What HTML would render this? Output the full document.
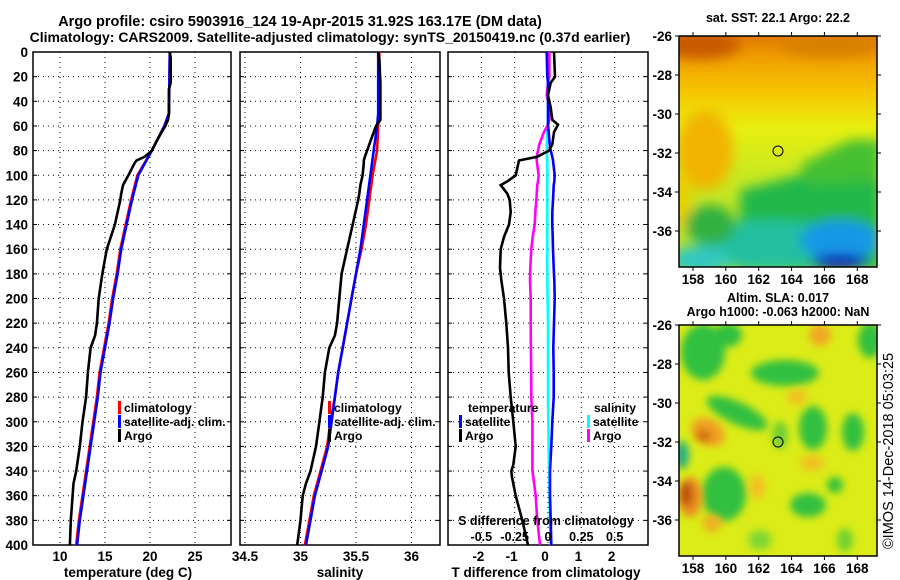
<!DOCTYPE html>
<html><head><meta charset="utf-8"><style>
html,body{margin:0;padding:0;background:#fff;}
svg{display:block;font-family:"Liberation Sans",sans-serif;font-weight:bold;}
</style></head><body>
<svg id="fig" width="900" height="580" viewBox="0 0 900 580">
<defs>
<filter id="blur6" x="-20%" y="-20%" width="140%" height="140%"><feGaussianBlur stdDeviation="6"/></filter>
<filter id="blur4" x="-20%" y="-20%" width="140%" height="140%"><feGaussianBlur stdDeviation="4"/></filter>
<clipPath id="clipTop"><rect x="679" y="36" width="198" height="231"/></clipPath>
<clipPath id="clipBot"><rect x="679" y="325" width="198" height="231"/></clipPath>
<linearGradient id="sstGrad" x1="0" y1="0" x2="0" y2="1">
<stop offset="0" stop-color="#e07a00"/><stop offset="0.1" stop-color="#f0a000"/>
<stop offset="0.25" stop-color="#f6c800"/><stop offset="0.4" stop-color="#e8ef10"/>
<stop offset="0.6" stop-color="#c8e820"/><stop offset="1" stop-color="#b0e030"/>
</linearGradient>
</defs>
<text x="300" y="26" font-size="14.5" text-anchor="middle">Argo profile: csiro 5903916_124 19-Apr-2015 31.92S 163.17E (DM data)</text>
<text x="330" y="42" font-size="14" text-anchor="middle">Climatology: CARS2009. Satellite-adjusted climatology: synTS_20150419.nc (0.37d earlier)</text>

<g id="p1"></g>
<g id="p2"></g>
<g id="p3"></g>

<!-- top map -->
<text x="778" y="22" font-size="12.5" text-anchor="middle">sat. SST: 22.1 Argo: 22.2</text>
<g clip-path="url(#clipTop)">
<rect x="679" y="36" width="198" height="231" fill="url(#sstGrad)"/>
<g filter="url(#blur6)">
<ellipse cx="700" cy="45" rx="40" ry="14" fill="#c85a00"/>
<ellipse cx="830" cy="45" rx="50" ry="12" fill="#d88000"/>
<ellipse cx="705" cy="150" rx="28" ry="40" fill="#f2b400"/>
<ellipse cx="680" cy="200" rx="12" ry="30" fill="#e8d000"/>
<path d="M740 190 L800 175 L830 150 L880 145 L880 270 L740 270 Z" fill="#22b84a"/>
<path d="M800 165 L850 140 L880 140 L880 180 L810 185 Z" fill="#44c030"/>
<ellipse cx="770" cy="245" rx="70" ry="25" fill="#20c0a0"/>
<ellipse cx="700" cy="260" rx="30" ry="14" fill="#30c8c0"/>
<ellipse cx="840" cy="240" rx="40" ry="20" fill="#1898e8"/>
<ellipse cx="840" cy="262" rx="28" ry="8" fill="#0820b0"/>
<ellipse cx="710" cy="225" rx="25" ry="20" fill="#30b040"/>
</g>
<circle cx="778" cy="151" r="5" fill="none" stroke="#000" stroke-width="1"/>
</g>
<rect x="679" y="36" width="198" height="231" fill="none" stroke="#000" stroke-width="1.5"/>
<g id="mapTopAxes"></g>

<!-- bottom map -->
<text x="778" y="302" font-size="12.5" text-anchor="middle">Altim. SLA: 0.017</text>
<text x="778" y="316" font-size="12.5" text-anchor="middle">Argo h1000: -0.063 h2000: NaN</text>
<g clip-path="url(#clipBot)">
<rect x="679" y="325" width="198" height="231" fill="#dcec18"/>
<g filter="url(#blur4)" fill="#30c040">
<ellipse cx="703" cy="352" rx="22" ry="28"/>
<ellipse cx="728" cy="335" rx="14" ry="12"/>
<ellipse cx="785" cy="373" rx="34" ry="13"/>
<ellipse cx="737" cy="413" rx="33" ry="11" transform="rotate(25 737 413)"/>
<ellipse cx="813" cy="428" rx="14" ry="22"/>
<ellipse cx="853" cy="432" rx="11" ry="19"/>
<ellipse cx="870" cy="340" rx="12" ry="18"/>
<ellipse cx="724" cy="494" rx="22" ry="27"/>
<ellipse cx="808" cy="505" rx="18" ry="12"/>
<ellipse cx="682" cy="455" rx="7" ry="14" fill="#20b080"/>
<ellipse cx="835" cy="485" rx="8" ry="8"/>
<ellipse cx="780" cy="435" rx="8" ry="14" fill="#70d030"/>
<ellipse cx="845" cy="540" rx="8" ry="12" fill="#70d030"/>
<ellipse cx="760" cy="540" rx="12" ry="10" fill="#80d830"/>
</g>
<g filter="url(#blur4)">
<ellipse cx="708" cy="432" rx="18" ry="13" fill="#f0a020" transform="rotate(30 708 432)"/>
<ellipse cx="703" cy="436" rx="8" ry="6" fill="#d06a10"/>
<ellipse cx="690" cy="497" rx="12" ry="20" fill="#e88a20"/>
<ellipse cx="686" cy="494" rx="6" ry="12" fill="#b84a08"/>
<ellipse cx="820" cy="335" rx="11" ry="11" fill="#f0a820"/>
<ellipse cx="797" cy="397" rx="10" ry="8" fill="#f2c020"/>
<ellipse cx="812" cy="463" rx="12" ry="8" fill="#f2c020"/>
<ellipse cx="757" cy="487" rx="8" ry="12" fill="#f2c020"/>
<ellipse cx="712" cy="523" rx="10" ry="9" fill="#f0b020"/>
</g>
<circle cx="778" cy="442" r="5" fill="none" stroke="#000" stroke-width="1"/>
</g>
<rect x="679" y="325" width="198" height="231" fill="none" stroke="#000" stroke-width="1.5"/>
<g id="mapBotAxes"></g>
<text transform="translate(893,549) rotate(-90)" font-size="14.5" font-weight="normal">©IMOS 14-Dec-2018 05:03:25</text>
</svg>
<script>
// ---------- data ----------
const depthTicks = [0,20,40,60,80,100,120,140,160,180,200,220,240,260,280,300,320,340,360,380,400];
const tempTicks = [10,15,20,25];
const salTicks = [34.5,35,35.5,36];
const salTickLabels = ["34.5","35","35.5","36"];
const tdiffTicks = [-2,-1,0,1,2];
const sdiffTicks = [-0.5,-0.25,0,0.25,0.5];
const sdiffTickLabels = ["-0.5","-0.25","0","0.25","0.5"];

const argoDepth = [0,5,25,30,50,55,60,70,80,85,88,90,100,108,115,120,140,160,180,200,220,230,240,260,280,300,320,340,350,360,380,400];
const argoTemp  = [22.2,22.3,22.3,22.1,22.1,22.0,21.7,20.9,20.2,19.4,18.5,18.3,17.6,17.0,16.8,16.7,16.1,15.2,14.7,14.3,14.1,13.9,13.4,13.1,12.9,12.5,12.2,11.8,11.5,11.4,11.2,11.1];
const argoSal   = [35.70,35.71,35.72,35.72,35.72,35.72,35.68,35.64,35.60,35.58,35.57,35.57,35.56,35.54,35.53,35.52,35.47,35.42,35.37,35.35,35.33,35.31,35.26,35.22,35.20,35.17,35.14,35.09,35.05,35.02,35.00,34.97];

const climDepth = [0,50,60,80,100,120,140,160,180,200,220,240,260,280,300,320,340,360,380,400];
const climTemp  = [22.2,22.1,21.6,20.2,18.6,17.9,17.3,16.7,16.3,15.8,15.4,14.9,14.4,14.1,13.7,13.3,12.9,12.5,12.1,11.8];
const satTemp   = [22.2,22.1,21.6,20.2,18.7,18.0,17.4,16.8,16.4,15.9,15.5,15.0,14.5,14.2,13.8,13.4,13.0,12.6,12.2,11.9];
const climSal   = [35.71,35.71,35.70,35.69,35.65,35.62,35.59,35.55,35.50,35.46,35.42,35.38,35.34,35.31,35.27,35.24,35.18,35.12,35.08,35.04];
const satSal    = [35.70,35.70,35.69,35.66,35.63,35.60,35.57,35.54,35.50,35.46,35.42,35.38,35.34,35.31,35.28,35.25,35.19,35.13,35.09,35.05];

const diffDepth = [0,20,25,35,45,55,59,65,75,80,85,88,100,105,108,115,120,130,140,150,160,175,185,200,220,240,260,280,300,320,335,340,345,360,380,400];
const argoTdiff = [0.18,0.21,0.08,0.0,0.08,0.13,0.30,0.18,0.13,0.03,-0.32,-0.87,-0.97,-1.22,-1.42,-1.22,-1.15,-1.12,-1.17,-1.32,-1.42,-1.44,-1.40,-1.32,-1.25,-1.20,-1.18,-1.12,-1.04,-0.97,-1.04,-1.10,-1.08,-0.97,-0.77,-0.60];
const argoSdiff = [0.01,0.01,0.0,-0.01,0.01,0.01,0.0,-0.03,-0.065,-0.075,-0.085,-0.085,-0.07,-0.075,-0.08,-0.085,-0.087,-0.095,-0.10,-0.115,-0.125,-0.133,-0.135,-0.13,-0.13,-0.128,-0.126,-0.125,-0.117,-0.117,-0.117,-0.117,-0.11,-0.092,-0.08,-0.06];
const satTdiff  = [-0.04,-0.02,0.0,0.0,0.0,0.0,0.0,0.02,0.05,0.08,0.13,0.15,0.20,0.19,0.17,0.16,0.15,0.13,0.13,0.14,0.15,0.17,0.19,0.20,0.18,0.16,0.17,0.17,0.13,0.10,0.07,0.06,0.06,0.06,0.08,0.10];
const satSdiff  = [0.01,0.01,0.0,0.0,0.0,0.0,0.0,-0.005,-0.01,-0.01,-0.008,-0.005,-0.005,-0.005,-0.005,-0.005,-0.005,-0.005,-0.005,-0.005,-0.005,-0.005,-0.005,-0.003,0.0,0.0,0.0,0.0,0.002,0.005,0.008,0.01,0.01,0.012,0.015,0.02];

const mapLonTicks = [158,160,162,164,166,168];
const mapLatTicks = [-26,-28,-30,-32,-34,-36];

// ---------- helpers ----------
const NS = "http://www.w3.org/2000/svg";
function mk(parent, tag, attrs, text){
  const e = document.createElementNS(NS, tag);
  for (const k in attrs) e.setAttribute(k, attrs[k]);
  if (text !== undefined) e.textContent = text;
  parent.appendChild(e);
  return e;
}
const Y0 = 52, Y1 = 545;
function yScale(d){ return Y0 + (d/400)*(Y1-Y0); }
function linScale(d0,d1,r0,r1){ return v => r0 + (v-d0)/(d1-d0)*(r1-r0); }

function frameAndGrid(g, left, right, xScale, xt, yLabels){
  xt.forEach(v=>{
    const x = xScale(v);
    const l = mk(g,'line',{x1:x,y1:Y0,x2:x,y2:Y1,stroke:'#000','stroke-width':1,'stroke-dasharray':'1,4'});
    
    
  });
  depthTicks.forEach(d=>{
    const y = yScale(d);
    const l = mk(g,'line',{x1:left,y1:y,x2:right,y2:y,stroke:'#000','stroke-width':1,'stroke-dasharray':'1,4'});
    
    
    mk(g,'line',{x1:left,y1:y,x2:left+4,y2:y,stroke:'#000','stroke-width':1});
    mk(g,'line',{x1:right,y1:y,x2:right-4,y2:y,stroke:'#000','stroke-width':1});
    if (yLabels){
      const t = mk(g,'text',{x:left-5,y:y+5,'font-size':13.5,'text-anchor':'end'}, String(d));
      
      
    }
  });
  const r = mk(g,'rect',{x:left,y:Y0,width:right-left,height:Y1-Y0,fill:'none',stroke:'#000','stroke-width':1.5});
  
  
}
function series(g, xs, ds, xScale, color, name, w){
  const pts = xs.map((v,i)=> xScale(v).toFixed(1)+','+yScale(ds[i]).toFixed(1)).join(' ');
  const p = mk(g,'polyline',{points:pts,fill:'none',stroke:color,'stroke-width':w||2.6,'stroke-linejoin':'miter'});
  
  
}
function legendEntry(g, x, y, color, label, name){
  if (color) mk(g,'rect',{x:x,y:y-11,width:3,height:13,fill:color});
  const t = mk(g,'text',{x:x+6,y:y,'font-size':12.2},label);
  
  
}

// ---------- panel 1: temperature ----------
(function(){
  const g = document.getElementById('p1');
  const xs = linScale(7,29,33,231);
  frameAndGrid(g,33,231,xs,tempTicks,true);
  series(g, climTemp, climDepth, xs, '#ff0000', 'climatology-temperature-line');
  series(g, satTemp, climDepth, xs, '#0000ff', 'satellite-temperature-line');
  series(g, argoTemp, argoDepth, xs, '#000000', 'argo-temperature-line');
  tempTicks.forEach(v=>{
    const t = mk(g,'text',{x:xs(v),y:561,'font-size':13.5,'text-anchor':'middle'},String(v));
    
    
  });
  const at = mk(g,'text',{x:128,y:577,'font-size':13.5,'text-anchor':'middle'},'temperature (deg C)');
  
  
  legendEntry(g,118,412,'#ff0000','climatology','legend-climatology');
  legendEntry(g,118,426,'#0000ff','satellite-adj. clim.','legend-satellite-adj');
  legendEntry(g,118,440,'#000000','Argo','legend-argo');
})();

// ---------- panel 2: salinity ----------
(function(){
  const g = document.getElementById('p2');
  const xs = linScale(34.455,36.257,240,440);
  frameAndGrid(g,240,440,xs,salTicks,false);
  series(g, climSal, climDepth, xs, '#ff0000', 'climatology-salinity-line');
  series(g, satSal, climDepth, xs, '#0000ff', 'satellite-salinity-line');
  series(g, argoSal, argoDepth, xs, '#000000', 'argo-salinity-line');
  salTicks.forEach((v,i)=>{
    const t = mk(g,'text',{x:xs(v),y:561,'font-size':13.5,'text-anchor':'middle'},salTickLabels[i]);
    
    
  });
  const at = mk(g,'text',{x:340,y:577,'font-size':13.5,'text-anchor':'middle'},'salinity');
  
  
  legendEntry(g,328,412,'#ff0000','climatology','legend-climatology-sal');
  legendEntry(g,328,426,'#0000ff','satellite-adj. clim.','legend-satellite-adj-sal');
  legendEntry(g,328,440,'#000000','Argo','legend-argo-sal');
})();

// ---------- panel 3: differences ----------
(function(){
  const g = document.getElementById('p3');
  const xt = linScale(-3,3,448,648);
  const xsS = linScale(-0.75,0.75,448,648);
  frameAndGrid(g,448,648,xt,tdiffTicks,false);
  series(g, satSdiff, diffDepth, xsS, '#00ffff', 'satellite-salinity-diff-line');
  series(g, argoSdiff, diffDepth, xsS, '#ff00ff', 'argo-salinity-diff-line');
  series(g, satTdiff, diffDepth, xt, '#0000ff', 'satellite-temperature-diff-line');
  series(g, argoTdiff, diffDepth, xt, '#000000', 'argo-temperature-diff-line');
  tdiffTicks.forEach(v=>{
    const t = mk(g,'text',{x:xt(v)-3,y:561,'font-size':13.5,'text-anchor':'middle'},String(v));
    
    
  });
  sdiffTicks.forEach((v,i)=>{
    const t = mk(g,'text',{x:xsS(v),y:541,'font-size':12.5,'text-anchor':'middle'},sdiffTickLabels[i]);
    
    
  });
  const st = mk(g,'text',{x:546,y:525,'font-size':12.5,'text-anchor':'middle'},'S difference from climatology');
  
  
  const tt = mk(g,'text',{x:546,y:577,'font-size':13.5,'text-anchor':'middle'},'T difference from climatology');
  
  
  legendEntry(g,462,412,null,'temperature','legend-temperature-header');
  legendEntry(g,459,426,'#0000ff','satellite','legend-t-satellite');
  legendEntry(g,459,440,'#000000','Argo','legend-t-argo');
  legendEntry(g,588,412,null,'salinity','legend-salinity-header');
  legendEntry(g,587,426,'#00ffff','satellite','legend-s-satellite');
  legendEntry(g,587,440,'#ff00ff','Argo','legend-s-argo');
})();

// ---------- map axes ----------
function mapAxes(id, top, bottom){
  const g = document.getElementById(id);
  const xl = linScale(157.15,169.2,679,877);
  const yl = linScale(-26,-38,top,top+234);
  mapLonTicks.forEach(v=>{
    const x = xl(v);
    mk(g,'line',{x1:x,y1:top,x2:x,y2:top-4,stroke:'#000'});
    mk(g,'line',{x1:x,y1:bottom,x2:x,y2:bottom+4,stroke:'#000'});
    const t = mk(g,'text',{x:x,y:bottom+17,'font-size':13.5,'text-anchor':'middle'},String(v));
    
    
  });
  mapLatTicks.forEach(v=>{
    const y = yl(v);
    mk(g,'line',{x1:679,y1:y,x2:675,y2:y,stroke:'#000'});
    mk(g,'line',{x1:877,y1:y,x2:881,y2:y,stroke:'#000'});
    const t = mk(g,'text',{x:672,y:y+5,'font-size':13.5,'text-anchor':'end'},String(v));
    
    
  });
}
mapAxes('mapTopAxes',36,267);
mapAxes('mapBotAxes',325,556);
</script>
</body></html>
